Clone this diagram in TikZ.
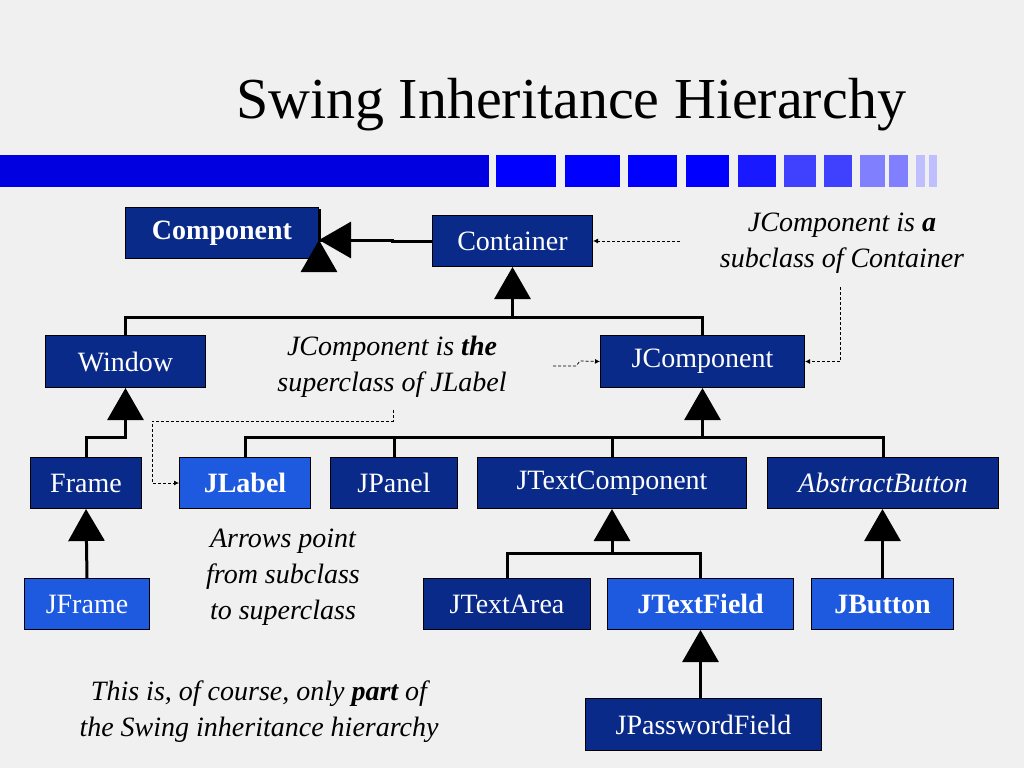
\documentclass[tikz,border=0pt]{standalone}
\usepackage{fontspec}
\setmainfont{Liberation Serif}
\usetikzlibrary{arrows.meta}
\definecolor{dk}{HTML}{0A2A8A}
\definecolor{lt}{HTML}{1E5AE0}
\definecolor{bg}{HTML}{F0F0F0}
\begin{document}
\begin{tikzpicture}[x=1pt,y=-1pt,
 bx/.style={draw=black,line width=1pt,fill=dk,text=white,font=\fontsize{28}{30}\selectfont,inner sep=0pt,anchor=north west},
 lb/.style={bx,fill=lt},
 inh/.style={line width=3pt,-{Triangle[length=32pt,width=36pt]}},
 tree/.style={line width=3pt},
 dsh/.style={densely dashed,line width=0.8pt,-{Latex[length=5pt,width=5pt]}},
 note/.style={font=\fontsize{28}{36}\selectfont\itshape,align=center}]
\fill[bg] (0,0) rectangle (1024,768);
\node[font=\fontsize{58}{60}\selectfont] (title) at (571,105) {Swing Inheritance Hierarchy};
% bar
\fill[blue!88!black] (0,155) rectangle (489,187);
\foreach \a/\b/\c in {496/556/100,565/620/100,628/677/100,686/729/100,738/776/90,784/816/75,824/852/75,860/885/50,889/908/50,916/925/25,929/937/25}
 \fill[blue!\c!white] (\a,155) rectangle (\b,187);
\newcommand\bxn[7]{\node[#1,minimum width=#4-#2,minimum height=#5-#3] (#6) at (#2,#3) {#7};}
\bxn{bx}{125}{207}{318}{258}{comp}{\textbf{Component}}
\bxn{bx}{432}{215}{592}{266}{cont}{Container}
\bxn{bx}{45}{335}{205}{387}{win}{Window}
\bxn{bx}{600}{335}{804}{387}{jcomp}{JComponent}
\bxn{bx}{30}{457}{141}{508}{frame}{Frame}
\bxn{lb}{179}{457}{310}{508}{jlabel}{\textbf{JLabel}}
\bxn{bx}{330}{457}{457}{508}{jpanel}{JPanel}
\bxn{bx}{477}{457}{746}{508}{jtc}{JTextComponent}
\bxn{bx}{767}{457}{998}{508}{ab}{\itshape AbstractButton}
\bxn{lb}{24}{578}{149}{629}{jframe}{JFrame}
\bxn{bx}{423}{578}{590}{629}{jta}{JTextArea}
\bxn{lb}{607}{578}{793}{629}{jtf}{\textbf{JTextField}}
\bxn{lb}{811}{578}{953}{629}{jb}{\textbf{JButton}}
\bxn{bx}{585}{698}{821}{750}{jpf}{JPasswordField}
% inheritance
\draw[inh] (cont.west) -- ++(-40,0) |- ([yshift=-7]comp.east) -- ([yshift=-7]comp.east);
\draw[inh] (cont.west) -- ++(-40,0) |- ([yshift=-7pt]comp.east);
\draw[tree] (win.north) |- (jcomp.north |- 0,317) -- (jcomp.north);
\draw[inh] (cont.south |- 0,317) -- (cont.south);
\draw[tree] (jlabel.north) |- (ab.north |- 0,437) -- (ab.north);
\draw[tree] (jpanel.north) -- (jpanel.north |- 0,437);
\draw[tree] (jtc.north) -- (jtc.north |- 0,437);
\draw[inh] (jcomp.south |- 0,437) -- (jcomp.south);
\draw[inh] (frame.north) |- (win.south |- 0,437) -- (win.south);
\draw[inh] (jframe.north) -- (frame.south);
\draw[tree] (jta.north) |- (jtf.north |- 0,553) -- (jtf.north);
\draw[inh] (jtc.south |- 0,553) -- (jtc.south);
\draw[inh] (jb.north) -- (jb.north |- ab.south);
\draw[inh] (jpf.north -| jtf.south) -- (jtf.south);
% notes
\node[note] (n1) at (842,243) {JComponent is \textbf{a}\\subclass of Container};
\node[note] (n2) at (392,367) {JComponent is \textbf{the}\\superclass of JLabel};
\node[note] (n3) at (283,577) {Arrows point\\from subclass\\to superclass};
\node[note] (n4) at (259,712) {This is, of course, only \textbf{part} of\\the Swing inheritance hierarchy};
\coordinate (c1) at (680,241);
\coordinate (c2) at (840,287);
\coordinate (c3) at (553,366);
\coordinate (c4) at (393,410);
\draw[dsh] (c1) -- (cont.east);
\draw[dsh] (c2) |- (jcomp.east);
\draw[dsh] (c3) -- (576,366) -- (580,361) -- (jcomp.west);
\draw[dsh] (c4) -- (393,421) -| (152,483) -- (jlabel.west);
\end{tikzpicture}
\end{document}
